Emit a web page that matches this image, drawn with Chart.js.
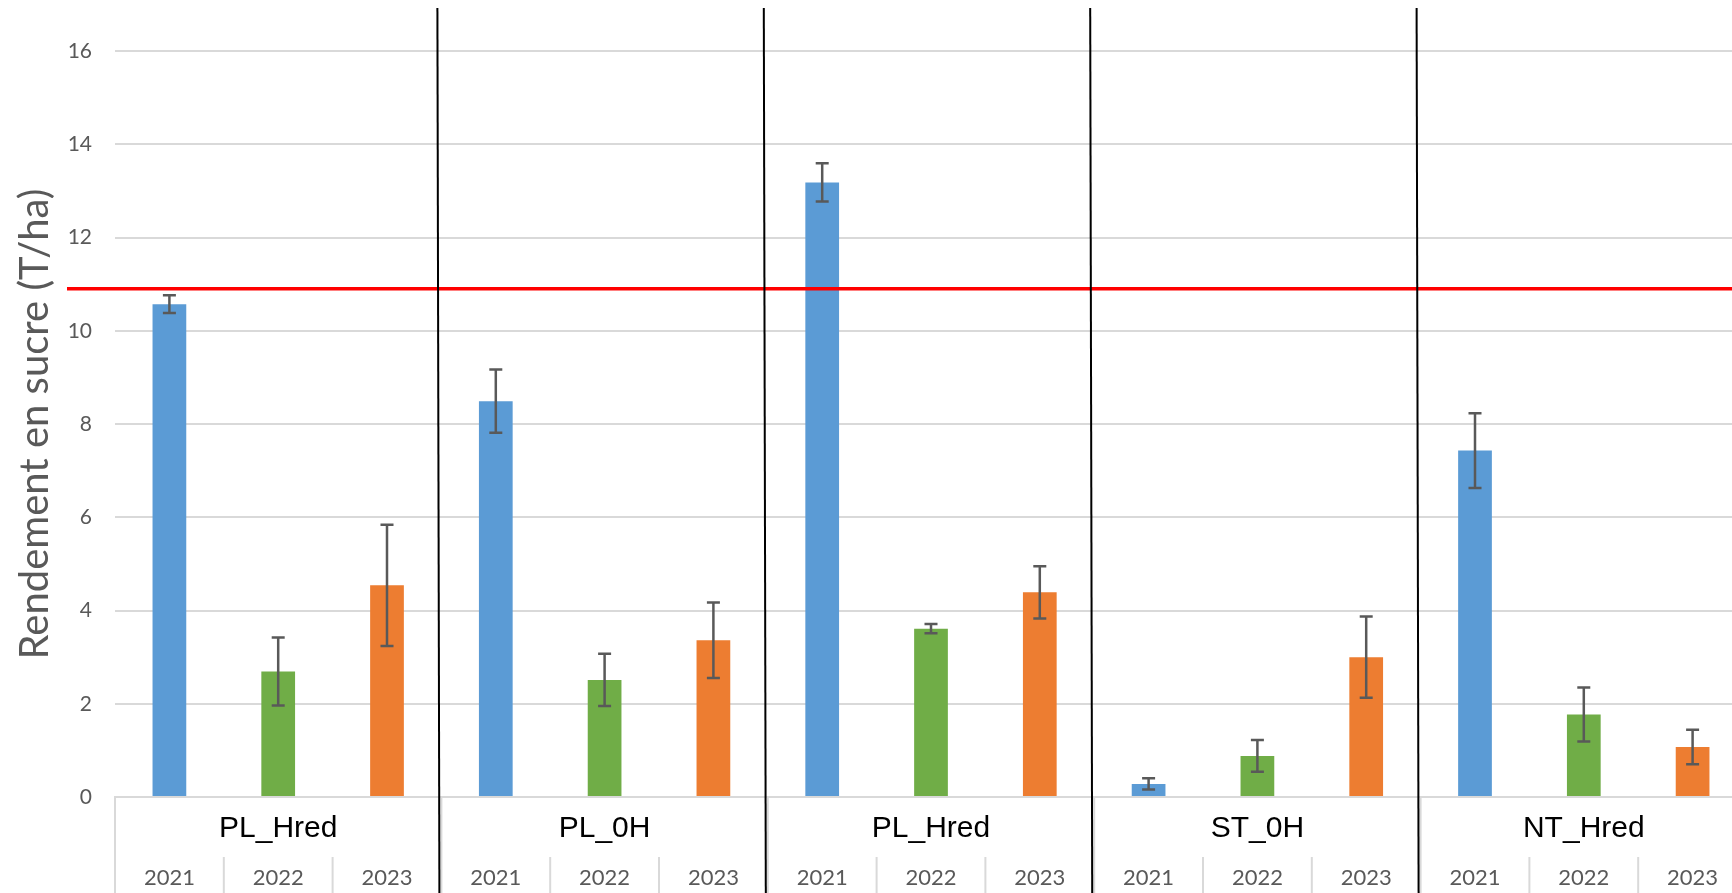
<!DOCTYPE html>
<html>
<head>
<meta charset="utf-8">
<script src="https://cdn.jsdelivr.net/npm/chart.js@4.4.1/dist/chart.umd.min.js"></script>
<style>
    html, body { margin: 0; padding: 0; background: #fff; overflow: hidden; }
    #wrap { width: 1747px; height: 893px; }
</style>
</head>
<body>
<div id="wrap"><canvas id="sugarChart"></canvas></div>
<script>
//////////////////////* Data *////////////////////////////
let groups = ["PL_Hred", "PL_0H", "PL_Hred", "ST_0H", "NT_Hred"];
let years = ["2021", "2022", "2023"];
let yTicks = [0, 2, 4, 6, 8, 10, 12, 14, 16];

// sugar yield (T/ha) per group, one array per year
let yield2021 = [10.57, 8.49, 13.18, 0.28, 7.43];
let yield2022 = [2.69, 2.51, 3.61, 0.88, 1.77];
let yield2023 = [4.54, 3.36, 4.39, 3.00, 1.07];

// error bar half-length per group
let err2021 = [0.19, 0.68, 0.41, 0.12, 0.80];
let err2022 = [0.73, 0.56, 0.10, 0.34, 0.58];
let err2023 = [1.30, 0.81, 0.56, 0.87, 0.37];

// red reference line
let referenceYield = 10.9;

//////////////////////* Styles *////////////////////////////
let yearColors = ["#5b9bd5", "#70ad47", "#ed7d31"];
let gridColor = "#d9d9d9";
let textGray = "#595959";

Chart.defaults.font.family = "Lato";

// spread each year's values over the 15 year slots (3 per group)
function spread(values, yearIndex) {
    let out = [];
    groups.forEach((g, gi) => {
        years.forEach((y, yi) => {
            out.push(yi === yearIndex ? values[gi] : null);
        });
    });
    return out;
}

let slotLabels = groups.flatMap(() => years);

//////////////////////* Overlay: error bars, separators, lines *////////////////////////////
const overlay = {
    id: "overlay",
    afterDatasetsDraw(chart) {
        const ctx = chart.ctx;
        const yScale = chart.scales.y;
        ctx.save();
        ctx.strokeStyle = textGray;
        ctx.lineWidth = 2.5;
        chart.data.datasets.forEach((ds, di) => {
            const meta = chart.getDatasetMeta(di);
            ds.data.forEach((v, i) => {
                if (v === null) return;
                const x = meta.data[i].x;
                const e = ds.errors[i];
                const yTop = yScale.getPixelForValue(v + e);
                const yBot = yScale.getPixelForValue(v - e);
                ctx.beginPath();
                ctx.moveTo(x, yTop); ctx.lineTo(x, yBot);
                ctx.moveTo(x - 6.5, yTop); ctx.lineTo(x + 6.5, yTop);
                ctx.moveTo(x - 6.5, yBot); ctx.lineTo(x + 6.5, yBot);
                ctx.stroke();
            });
        });
        ctx.restore();
    },
    afterDraw(chart) {
        const ctx = chart.ctx;
        const area = chart.chartArea;
        const xScale = chart.scales.x;
        const yScale = chart.scales.y;
        const slot = xScale.getPixelForValue(1) - xScale.getPixelForValue(0);
        const edge = (k) => xScale.getPixelForValue(k) - slot / 2;

        ctx.save();
        // category separators below the axis
        ctx.strokeStyle = gridColor;
        ctx.lineWidth = 2;
        for (let k = 0; k <= slotLabels.length; k++) {
            const x = edge(k);
            const yStart = k % years.length === 0 ? area.bottom : xScale.top;
            ctx.beginPath();
            ctx.moveTo(x, yStart);
            ctx.lineTo(x, chart.height);
            ctx.stroke();
        }

        // red reference line
        const yRef = yScale.getPixelForValue(referenceYield);
        ctx.strokeStyle = "#ff0000";
        ctx.lineWidth = 3.5;
        ctx.beginPath();
        ctx.moveTo(area.left - 48, yRef);
        ctx.lineTo(area.right, yRef);
        ctx.stroke();

        // black group dividers
        ctx.strokeStyle = "#000000";
        ctx.lineWidth = 2;
        for (let g = 1; g < groups.length; g++) {
            const x = edge(g * years.length) - 3;
            ctx.beginPath();
            ctx.moveTo(x - 1, 8);
            ctx.lineTo(x + 1, chart.height);
            ctx.stroke();
        }
        ctx.restore();
    }
};

//////////////////////* Chart *////////////////////////////
function sugarChart() {
    let ctx = document.getElementById("sugarChart");
    let allValues = [yield2021, yield2022, yield2023];
    let allErrors = [err2021, err2022, err2023];
    let data = {
        labels: slotLabels,
        datasets: years.map((y, yi) => ({
            label: y,
            xAxisID: "x",
            yAxisID: "y",
            data: spread(allValues[yi], yi),
            errors: spread(allErrors[yi], yi),
            backgroundColor: yearColors[yi],
            borderWidth: 0,
            grouped: false,
            categoryPercentage: 1,
            barPercentage: 0.31,
        })),
    };
    let config = {
        type: "bar",
        data: data,
        plugins: [overlay],
        options: {
            responsive: true,
            maintainAspectRatio: false,
            animation: false,
            layout: {
                padding: { top: 51, left: 0, right: 0, bottom: 0 },
            },
            plugins: {
                legend: { display: false },
                tooltip: { enabled: false },
            },
            scales: {
                x: {
                    position: "bottom",
                    offset: true,
                    weight: 1,
                    afterFit: (scale) => { scale.height = 36; },
                    ticks: {
                        color: textGray,
                        padding: 8,
                        autoSkip: false,
                        maxRotation: 0,
                        font: { size: 22 },
                    },
                    grid: { display: false, drawTicks: false },
                    border: { display: false },
                },
                x2: {
                    type: "category",
                    position: "bottom",
                    labels: groups,
                    offset: true,
                    weight: 0,
                    afterFit: (scale) => { scale.height = 60; },
                    ticks: {
                        color: "#000000",
                        padding: 14,
                        autoSkip: false,
                        maxRotation: 0,
                        font: { family: "Liberation Sans", size: 30 },
                    },
                    grid: { display: false, drawTicks: false },
                    border: { display: true, color: gridColor, width: 2 },
                },
                y: {
                    min: 0,
                    max: 16,
                    afterBuildTicks: (scale) => {
                        scale.ticks = yTicks.map((v) => ({ value: v }));
                    },
                    afterFit: (scale) => { scale.width = 115; },
                    ticks: {
                        color: textGray,
                        padding: 23,
                        font: { size: 21 },
                    },
                    title: {
                        display: true,
                        text: "Rendement en sucre (T/ha)",
                        color: textGray,
                        padding: { top: 11, bottom: 0 },
                        font: { size: 40 },
                    },
                    grid: {
                        color: gridColor,
                        lineWidth: 2,
                        drawTicks: false,
                    },
                    border: { display: false },
                },
            },
        },
    };
    let chart = new Chart(ctx, config);
}

sugarChart();
</script>
</body>
</html>
